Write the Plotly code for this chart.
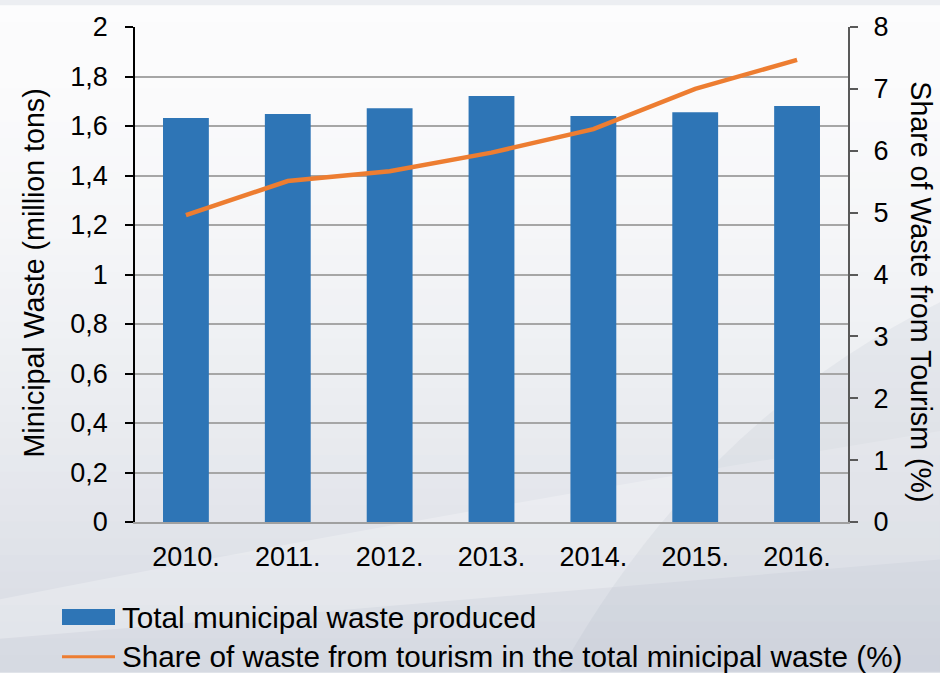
import plotly.graph_objects as go

years = ["2010.", "2011.", "2012.", "2013.", "2014.", "2015.", "2016."]
waste_mt = [1.632, 1.648, 1.672, 1.721, 1.640, 1.656, 1.681]
tourism_share = [4.96, 5.51, 5.67, 5.97, 6.35, 7.00, 7.47]
left_ticks = [0, 0.2, 0.4, 0.6, 0.8, 1.0, 1.2, 1.4, 1.6, 1.8, 2.0]
left_labels = ["0", "0,2", "0,4", "0,6", "0,8", "1", "1,2", "1,4", "1,6", "1,8", "2"]
right_ticks = [0, 1, 2, 3, 4, 5, 6, 7, 8]
bar_name = "Total municipal waste produced"
line_name = "Share of waste from tourism in the total minicipal waste (%)"
left_title = "Minicipal Waste (million tons)"
right_title = "Share of Waste from Tourism (%)"

W, H = 940, 673
L, R, T, B = 135, 848, 22, 522
FONT = "Liberation Sans, Arial, sans-serif"
BLUE = "#2e75b6"
ORANGE = "#ed7d31"


def px(x):
    return (x - L) / (R - L)


def py(y):
    return (B - y) / (B - T)


fig = go.Figure()
fig.add_trace(go.Bar(x=years, y=waste_mt, name=bar_name, marker=dict(color=BLUE, line=dict(width=0)),
                     yaxis="y", showlegend=False))
fig.add_trace(go.Scatter(x=years, y=tourism_share, name=line_name, mode="lines",
                         line=dict(color=ORANGE, width=4.5), yaxis="y2", showlegend=False))

shapes = []
# background vertical gradient
top_c = (252, 252, 253)
bot_c = (214, 218, 226)
n = 40
for i in range(n):
    y0 = H * i / n
    y1 = H * (i + 1) / n + 1
    f = (i / (n - 1)) ** 1.6
    c = tuple(int(top_c[k] + (bot_c[k] - top_c[k]) * f) for k in range(3))
    shapes.append(dict(type="rect", xref="paper", yref="paper", x0=px(0), x1=px(W), y0=py(y1), y1=py(y0),
                       fillcolor="rgb(%d,%d,%d)" % c, line=dict(width=0), layer="below"))
# subtle light sweep below the plot
shapes.append(dict(type="path", xref="paper", yref="paper",
                   path="M %f %f Q %f %f %f %f L %f %f L %f %f Z" % (
                       px(0), py(600), px(400), py(520), px(940), py(430), px(940), py(560), px(0), py(640)),
                   fillcolor="rgba(255,255,255,0.25)", line=dict(width=0), layer="below"))
# subtle darker sweep on the right
shapes.append(dict(type="path", xref="paper", yref="paper",
                   path="M %f %f Q %f %f %f %f L %f %f L %f %f Z" % (
                       px(560), py(673), px(700), py(420), px(940), py(300), px(940), py(673), px(560), py(673)),
                   fillcolor="rgba(150,160,175,0.10)", line=dict(width=0), layer="below"))

# custom legend symbols
shapes.append(dict(type="rect", xref="paper", yref="paper", x0=px(62), x1=px(115), y0=py(626), y1=py(610),
                   fillcolor=BLUE, line=dict(width=0)))
shapes.append(dict(type="line", xref="paper", yref="paper", x0=px(62), x1=px(115), y0=py(658), y1=py(658),
                   line=dict(color=ORANGE, width=3)))

annotations = [
    dict(text=left_title, xref="paper", yref="paper", x=px(34), y=py(271), textangle=-90,
         showarrow=False, xanchor="center", yanchor="middle", font=dict(size=28.6, color="black", family=FONT)),
    dict(text=right_title, xref="paper", yref="paper", x=px(921), y=py(289), textangle=90,
         showarrow=False, xanchor="center", yanchor="middle", font=dict(size=28.6, color="black", family=FONT)),
    dict(text=bar_name, xref="paper", yref="paper", x=px(120), y=py(618), showarrow=False,
         xanchor="left", yanchor="middle", font=dict(size=29.7, color="black", family=FONT)),
    dict(text=line_name, xref="paper", yref="paper", x=px(120), y=py(658), showarrow=False,
         xanchor="left", yanchor="middle", font=dict(size=29.7, color="black", family=FONT)),
]

fig.update_layout(
    width=W, height=H,
    margin=dict(l=L, r=W - R, t=T, b=H - B, pad=0),
    paper_bgcolor="rgb(236,238,242)",
    plot_bgcolor="rgba(0,0,0,0)",
    font=dict(family=FONT, size=27, color="black"),
    bargap=0.55,
    showlegend=False,
    shapes=shapes,
    annotations=annotations,
    xaxis=dict(type="category", showgrid=False, showline=True, linecolor="#a0a0a0", linewidth=2,
               ticks="", ticklabelstandoff=10, tickfont=dict(size=27), zeroline=False),
    yaxis=dict(range=[0, 2], tickvals=left_ticks, ticktext=left_labels, showgrid=True,
               gridcolor="#a6a6a6", gridwidth=2, showline=True, linecolor="black", linewidth=1.5,
               ticks="outside", ticklen=8, tickcolor="black", tickwidth=1.5, ticklabelstandoff=12,
               tickfont=dict(size=27), zeroline=False),
    yaxis2=dict(range=[0, 8], tickvals=right_ticks, overlaying="y", side="right", showgrid=False,
                showline=True, linecolor="#595959", linewidth=2, ticks="outside", ticklen=8,
                tickcolor="#595959", tickwidth=1.5, ticklabelstandoff=10, tickfont=dict(size=27),
                zeroline=False),
)

fig.write_html("out.html", config={"displayModeBar": False},
               post_script="document.body.style.margin='0px';document.body.style.overflow='hidden';")
